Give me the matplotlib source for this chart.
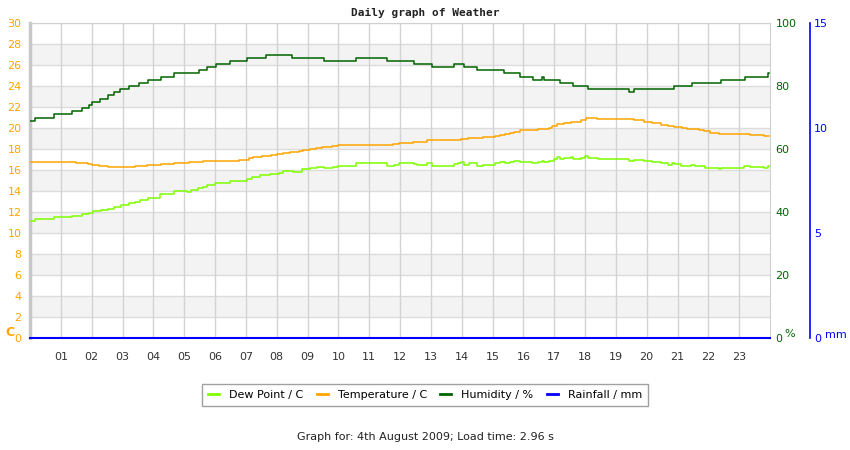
import matplotlib
matplotlib.use("Agg")
import matplotlib.pyplot as plt
from matplotlib.lines import Line2D

# ---------------- data (step change points: hour, value) ----------------
hum_t = [0.00, 0.16, 0.78, 1.35, 1.69, 1.92, 2.01, 2.27, 2.52, 2.73, 2.92, 3.20, 3.53,
         3.83, 4.24, 4.66, 5.47, 5.75, 6.02, 6.50, 7.04, 7.66, 8.51, 9.52, 10.58, 11.59,
         12.46, 13.04, 13.76, 14.09, 14.50, 15.38, 15.90, 16.30, 16.62, 16.68, 17.18,
         17.60, 18.10, 19.42, 19.58, 20.89, 21.48, 22.41, 23.18, 23.93, 23.98]
hum_v = [69, 70, 71, 72, 73, 74, 75, 76, 77, 78, 79, 80, 81,
         82, 83, 84, 85, 86, 87, 88, 89, 90, 89, 88, 89, 88,
         87, 86, 87, 86, 85, 84, 83, 82, 83, 82, 81,
         80, 79, 78, 79, 80, 81, 82, 83, 84, 84]

temp_t = [0.00, 1.49, 1.87, 2.01, 2.24, 2.52, 3.39, 3.79, 4.26, 4.66, 5.16, 5.62, 6.77,
          7.11, 7.24, 7.52, 7.82, 8.00, 8.22, 8.44, 8.74, 8.87, 9.08, 9.28, 9.46, 9.79,
          10.00, 11.77, 11.98, 12.42, 12.87, 13.99, 14.22, 14.69, 15.07, 15.25, 15.42,
          15.56, 15.69, 15.88, 16.46, 16.82, 16.93, 17.09, 17.31, 17.55, 17.87, 18.04,
          18.39, 19.58, 19.91, 20.18, 20.45, 20.69, 20.88, 21.13, 21.31, 21.69, 21.85,
          22.05, 22.34, 23.35, 23.80, 23.98]
temp_v = [16.8, 16.7, 16.6, 16.5, 16.4, 16.3, 16.4, 16.5, 16.6, 16.7, 16.8, 16.9, 17.0,
          17.1, 17.2, 17.35, 17.45, 17.55, 17.65, 17.75, 17.85, 17.95, 18.0, 18.1, 18.2, 18.3,
          18.4, 18.5, 18.57, 18.7, 18.83, 18.92, 19.02, 19.11, 19.21, 19.3, 19.43,
          19.55, 19.65, 19.78, 19.87, 20.03, 20.2, 20.35, 20.44, 20.54, 20.73, 20.92,
          20.83, 20.73, 20.54, 20.44, 20.32, 20.22, 20.13, 20.03, 19.9, 19.8, 19.71,
          19.52, 19.43, 19.33, 19.24, 19.24]

dew_t = [0.00, 0.16, 0.78, 1.35, 1.45, 1.70, 1.92, 2.03, 2.29, 2.54, 2.73, 2.94, 3.21,
         3.40, 3.56, 3.83, 4.21, 4.67, 5.08, 5.21, 5.46, 5.62, 5.75, 6.00, 6.49, 7.03,
         7.19, 7.46, 7.79, 8.06, 8.22, 8.54, 8.81, 9.09, 9.30, 9.52, 9.82, 10.00, 10.58,
         11.57, 11.79, 11.98, 12.44, 12.55, 12.87, 13.04, 13.76, 13.87, 13.98, 14.09,
         14.23, 14.50, 14.69, 15.07, 15.25, 15.42, 15.58, 15.69, 15.88, 16.28, 16.46,
         16.61, 16.68, 16.82, 16.98, 17.09, 17.20, 17.31, 17.55, 17.61, 17.87, 18.00,
         18.09, 18.41, 19.42, 19.60, 19.91, 20.18, 20.45, 20.69, 20.83, 20.90, 21.10,
         21.44, 21.58, 21.88, 22.34, 22.40, 23.15, 23.35, 23.80, 23.93, 23.98]
dew_v = [11.14, 11.3, 11.5, 11.65, 11.6, 11.78, 11.9, 12.06, 12.16, 12.25, 12.5, 12.63, 12.86,
         12.95, 13.11, 13.36, 13.68, 13.97, 13.93, 14.06, 14.25, 14.38, 14.57, 14.73, 14.92, 15.14,
         15.3, 15.5, 15.6, 15.75, 15.87, 15.82, 16.06, 16.19, 16.29, 16.19, 16.29, 16.38, 16.7,
         16.38, 16.48, 16.7, 16.54, 16.48, 16.7, 16.38, 16.6, 16.63, 16.73, 16.48,
         16.63, 16.38, 16.48, 16.63, 16.73, 16.63, 16.79, 16.89, 16.79, 16.63, 16.73,
         16.89, 16.73, 16.89, 17.08, 17.2, 17.08, 17.11, 17.2, 17.05, 17.11, 17.3,
         17.14, 17.02, 16.83, 16.92, 16.83, 16.73, 16.63, 16.44, 16.63, 16.54, 16.35,
         16.44, 16.35, 16.16, 16.06, 16.16, 16.35, 16.25, 16.16, 16.35, 16.35]

rain_t = [0.0, 24.0]
rain_v = [0.0, 0.0]

hour_ticks = list(range(1, 24))
hour_labels = ["%02d" % h for h in hour_ticks]
temp_ticks = list(range(0, 31, 2))
hum_ticks = [0, 20, 40, 60, 80, 100]
rain_ticks = [0, 5, 10, 15]

# ---------------- styling ----------------
C_TEMP = "#FFA500"
C_DEW = "#7FFF00"
C_HUM = "#006400"
C_RAIN = "#0000FF"
GRID = "#d3d3d3"

fig = plt.figure(figsize=(8.5, 4.5), dpi=100)
L, R, B, T = 30 / 850, 770 / 850, 112 / 450, 427 / 450
ax = fig.add_axes([L, B, R - L, T - B])
ax.set_xlim(0, 24)
ax.set_ylim(0, 30)

# alternating bands
for y0 in temp_ticks[:-1]:
    if (y0 // 2) % 2 == 1:
        ax.axhspan(y0, y0 + 2, color="#f3f3f3", zorder=0, lw=0)
for y in temp_ticks:
    ax.axhline(y, color="#dcdcdc", lw=1, zorder=1)
for h in hour_ticks:
    ax.axvline(h, color=GRID, lw=1, zorder=1)

ax.step(temp_t, temp_v, where="post", color=C_TEMP, lw=1.1, zorder=3)
ax.step(dew_t, dew_v, where="post", color=C_DEW, lw=1.1, zorder=3)

ax.set_xticks(hour_ticks)
ax.set_xticklabels(hour_labels)
ax.set_yticks(temp_ticks)
ax.tick_params(axis="x", length=0, pad=10, labelsize=8, labelcolor="#333333")
ax.tick_params(axis="y", length=0, pad=6, labelsize=8, labelcolor=C_TEMP)
ax.spines["left"].set_color("#c8c8c8")
ax.spines["left"].set_linewidth(2.5)
ax.spines["top"].set_color("#d0d0d0")
ax.spines["right"].set_color("#d0d0d0")
ax.spines["bottom"].set_visible(False)

# humidity axis
ax2 = ax.twinx()
ax2.set_ylim(0, 100)
ax2.step(hum_t, hum_v, where="post", color=C_HUM, lw=1.1, zorder=3)
ax2.set_yticks(hum_ticks)
ax2.tick_params(axis="y", length=0, pad=4, labelsize=8, labelcolor=C_HUM)
for s in ax2.spines.values():
    s.set_visible(False)

# rainfall axis
ax3 = ax.twinx()
ax3.set_ylim(0, 15)
ax3.set_xlim(0, 24)
ax3.plot(rain_t, rain_v, color=C_RAIN, lw=1.5, zorder=4, clip_on=False)
ax3.spines["right"].set_position(("axes", 1.054))
ax3.spines["right"].set_color(C_RAIN)
ax3.spines["right"].set_linewidth(1.2)
for k in ("left", "top", "bottom"):
    ax3.spines[k].set_visible(False)
ax3.set_yticks(rain_ticks)
ax3.tick_params(axis="y", length=0, pad=3, labelsize=8, labelcolor=C_RAIN)

# axis unit labels
fig.text(5 / 850, 1 - 333 / 450, "C", color=C_TEMP, fontsize=9, fontweight="bold",
         ha="left", va="center")
fig.text(784 / 850, 1 - 334 / 450, "%", color=C_HUM, fontsize=8, ha="left", va="center")
fig.text(825 / 850, 1 - 335 / 450, "mm", color=C_RAIN, fontsize=8, ha="left", va="center")

# title
fig.text(425 / 850, 1 - 13 / 450, "Daily graph of Weather", ha="center", va="center",
         fontsize=8, fontweight="bold", family="DejaVu Sans Mono", color="#222222")

# legend
handles = [Line2D([], [], color=C_DEW, lw=2), Line2D([], [], color=C_TEMP, lw=2),
           Line2D([], [], color=C_HUM, lw=2), Line2D([], [], color=C_RAIN, lw=2)]
labels = ["Dew Point / C", "Temperature / C", "Humidity / %", "Rainfall / mm"]
leg = fig.legend(handles, labels, loc="center", bbox_to_anchor=(425 / 850, 1 - 395 / 450),
                 ncol=4, fontsize=8, frameon=True, fancybox=False, handlelength=1.0,
                 handletextpad=0.9, columnspacing=1.2, borderpad=0.5, borderaxespad=0)
leg.get_frame().set_edgecolor("#888888")
leg.get_frame().set_linewidth(1)

fig.text(425 / 850, 1 - 437 / 450, "Graph for: 4th August 2009; Load time: 2.96 s",
         ha="center", va="center", fontsize=8, color="#222222")

fig.savefig("out.png", dpi=100)
